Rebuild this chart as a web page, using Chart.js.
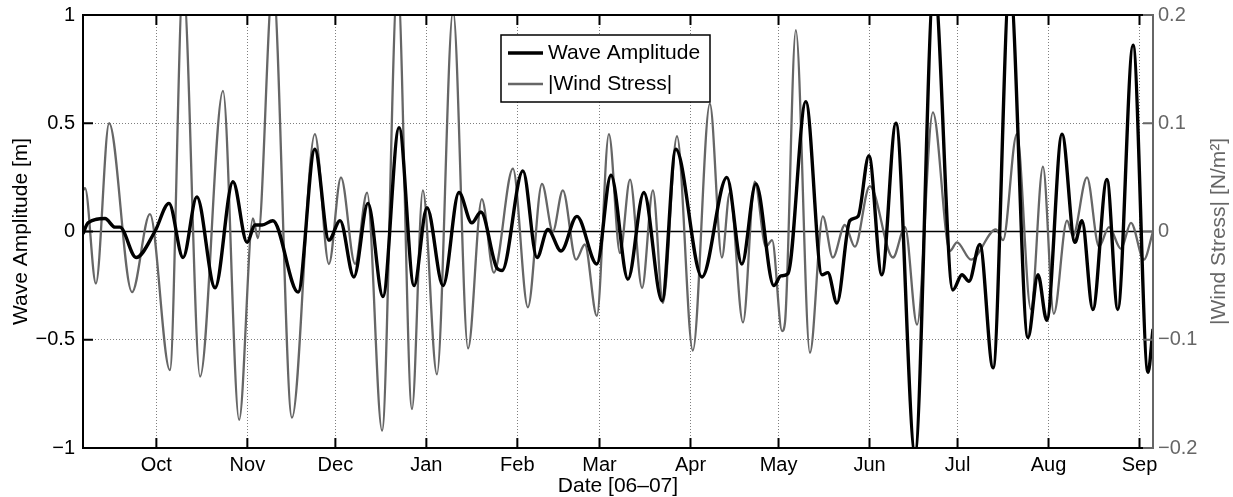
<!DOCTYPE html>
<html>
<head>
<meta charset="utf-8">
<script src="https://cdn.jsdelivr.net/npm/chart.js@4.4.0/dist/chart.umd.min.js"></script>
<style>
  html, body { margin: 0; padding: 0; background: #fff; }
  #wrap { width: 1233px; height: 497px; }
</style>
</head>
<body>
<div id="wrap"><canvas id="waveChart" width="1233" height="497"></canvas></div>
<script>
// days counted from 6 Sep 2006
const monthDays = [25, 56, 86, 117, 148, 176, 207, 237, 268, 298, 329, 360];
const monthLabels = ['Oct', 'Nov', 'Dec', 'Jan', 'Feb', 'Mar', 'Apr', 'May', 'Jun', 'Jul', 'Aug', 'Sep'];

const leftTicks = [-1, -0.5, 0, 0.5, 1];
const leftTickLabels = ['\u22121', '\u22120.5', '0', '0.5', '1'];
const rightTicks = [-0.2, -0.1, 0, 0.1, 0.2];
const rightTickLabels = ['\u22120.2', '\u22120.1', '0', '0.1', '0.2'];

// wave amplitude [m]
const waveDays = [0, 1.7, 7.5, 10.9, 12.6, 18.1, 24.5, 29.3, 34.1, 38.8,
  45.0, 51.1, 55.9, 58.6, 61.0, 64.7, 73.3, 79.0, 83.8, 87.6,
  92.3, 97.1, 102.2, 107.7, 112.8, 117.2, 122.7, 128.1, 132.5, 135.6,
  141.1, 142.8, 149.9, 154.7, 158.4, 162.9, 168.3, 175.1, 179.9, 185.7,
  191.1, 197.3, 202.0, 210.9, 219.4, 224.5, 229.3, 235.4, 237.8, 240.2,
  246.3, 251.8, 253.8, 256.9, 261.3, 264.1, 267.8, 272.2, 277.0, 283.5,
  290.0, 296.4, 299.5, 301.9, 305.6, 310.1, 315.8, 322.0, 325.4, 328.4,
  333.6, 338.0, 340.4, 344.1, 348.9, 352.6, 357.8, 362.9, 364.6];
const waveAmp = [-0.01, 0.04, 0.06, 0.02, 0.02, -0.12, 0.0, 0.13, -0.12, 0.16,
  -0.26, 0.23, -0.05, 0.03, 0.03, 0.05, -0.28, 0.38, -0.04, 0.05,
  -0.21, 0.13, -0.30, 0.48, -0.25, 0.11, -0.25, 0.18, 0.04, 0.09,
  -0.17, -0.18, 0.28, -0.12, 0.01, -0.09, 0.07, -0.15, 0.26, -0.22,
  0.18, -0.32, 0.38, -0.21, 0.25, -0.15, 0.22, -0.25, -0.205, -0.195,
  0.60, -0.20, -0.19, -0.33, 0.05, 0.07, 0.35, -0.20, 0.50, -1.02,
  1.15, -0.27, -0.20, -0.23, -0.06, -0.63, 1.15, -0.49, -0.20, -0.41,
  0.45, -0.05, 0.05, -0.36, 0.24, -0.36, 0.86, -0.65, -0.45];

// |wind stress| [N/m^2]
const windDays = [0, 0.7, 4.4, 8.9, 16.7, 22.8, 29.6, 34.1, 39.9, 47.7,
  53.2, 57.9, 59.6, 64.7, 71.2, 79.0, 83.8, 87.9, 92.7, 96.8,
  101.9, 107.2, 112.1, 115.8, 120.6, 126.1, 131.2, 135.9, 140.0, 146.5,
  151.6, 156.4, 160.1, 163.5, 168.0, 171.0, 175.1, 179.2, 183.0, 186.4,
  190.5, 194.2, 197.6, 202.4, 207.8, 213.6, 217.7, 220.4, 224.9, 228.9,
  232.7, 234.8, 238.2, 239.2, 242.9, 247.7, 252.1, 255.5, 259.6, 263.0,
  268.1, 276.0, 280.1, 284.2, 289.6, 295.4, 297.8, 302.6, 311.1, 313.5,
  318.2, 323.0, 327.1, 330.8, 335.3, 337.3, 342.1, 346.2, 349.6, 353.7,
  357.1, 361.5, 364.6];
const windStress = [0.038, 0.040, -0.048, 0.100, -0.056, 0.016, -0.128, 0.230, -0.134, 0.130,
  -0.174, 0.012, -0.006, 0.230, -0.172, 0.090, -0.030, 0.050, -0.030, 0.036,
  -0.184, 0.230, -0.164, 0.038, -0.132, 0.204, -0.108, 0.030, -0.038, 0.058,
  -0.070, 0.044, 0.000, 0.038, -0.026, -0.012, -0.078, 0.090, -0.020, 0.048,
  -0.052, 0.038, -0.066, 0.088, -0.110, 0.118, -0.024, 0.036, -0.084, 0.046,
  -0.014, -0.008, -0.092, -0.084, 0.186, -0.112, 0.014, -0.024, 0.006, -0.014,
  0.042, -0.024, 0.004, -0.086, 0.110, -0.018, -0.010, -0.026, 0.002, -0.008,
  0.090, -0.072, 0.060, -0.076, 0.010, -0.004, 0.050, -0.014, 0.004, -0.016,
  0.008, -0.026, 0.000];

const FONT = "'Liberation Sans', Arial, Helvetica, sans-serif";
const GRAY = '#666666';
const GRID = 'rgba(0,0,0,0.5)';

// frame, inward ticks, zero line, legend and right axis title
const framePlugin = {
    id: 'frame',
    beforeDatasetsDraw(chart) {
        const { ctx, chartArea: a, scales } = chart;
        const y0 = scales.y.getPixelForValue(0);
        ctx.save();
        ctx.strokeStyle = '#000';
        ctx.lineWidth = 1.5;
        ctx.beginPath();
        ctx.moveTo(a.left, y0);
        ctx.lineTo(a.right, y0);
        ctx.stroke();
        ctx.restore();
    },
    afterDatasetsDraw(chart) {
        const { ctx, chartArea: a, scales } = chart;
        const tl = 10;
        ctx.save();
        ctx.lineWidth = 2;
        ctx.strokeStyle = '#000';
        ctx.beginPath();
        monthDays.forEach(d => {
            const px = scales.x.getPixelForValue(d);
            ctx.moveTo(px, a.bottom); ctx.lineTo(px, a.bottom - tl);
            ctx.moveTo(px, a.top); ctx.lineTo(px, a.top + tl);
        });
        leftTicks.forEach(v => {
            const py = scales.y.getPixelForValue(v);
            ctx.moveTo(a.left, py); ctx.lineTo(a.left + tl, py);
        });
        ctx.stroke();

        // box
        ctx.beginPath();
        ctx.moveTo(a.right, a.top);
        ctx.lineTo(a.left, a.top);
        ctx.lineTo(a.left, a.bottom);
        ctx.lineTo(a.right, a.bottom);
        ctx.stroke();

        // right axis in gray
        ctx.strokeStyle = GRAY;
        ctx.beginPath();
        ctx.moveTo(a.right, a.top - 1);
        ctx.lineTo(a.right, a.bottom + 1);
        rightTicks.forEach(v => {
            const py = scales.y1.getPixelForValue(v);
            ctx.moveTo(a.right, py); ctx.lineTo(a.right - tl, py);
        });
        ctx.stroke();

        // right axis title, reading bottom to top
        ctx.fillStyle = GRAY;
        ctx.font = '21px ' + FONT;
        ctx.textAlign = 'center';
        ctx.textBaseline = 'middle';
        ctx.translate(chart.width - 14, (a.top + a.bottom) / 2);
        ctx.rotate(-Math.PI / 2);
        ctx.fillText('|Wind Stress| [N/m\u00B2]', 0, 0);
        ctx.restore();

        // legend
        const lx = 501, ly = 35, lw = 209, lh = 67;
        ctx.save();
        ctx.fillStyle = '#fff';
        ctx.fillRect(lx, ly, lw, lh);
        ctx.strokeStyle = '#000';
        ctx.lineWidth = 1.5;
        ctx.strokeRect(lx, ly, lw, lh);
        ctx.font = '21px ' + FONT;
        ctx.textAlign = 'left';
        ctx.textBaseline = 'middle';
        chart.data.datasets.forEach((ds, i) => {
            const yy = ly + 18 + i * 31;
            ctx.strokeStyle = ds.borderColor;
            ctx.lineWidth = ds.borderWidth;
            ctx.beginPath();
            ctx.moveTo(lx + 7, yy);
            ctx.lineTo(lx + 42, yy);
            ctx.stroke();
            ctx.fillStyle = '#000';
            ctx.fillText(ds.label, lx + 47, yy);
        });
        ctx.restore();
    }
};

const ctx = document.getElementById('waveChart').getContext('2d');
new Chart(ctx, {
    type: 'line',
    data: {
        datasets: [{
            label: 'Wave Amplitude',
            data: waveDays.map((d, i) => ({ x: d, y: waveAmp[i] })),
            yAxisID: 'y',
            borderColor: '#000',
            borderWidth: 3.4,
            pointRadius: 0,
            cubicInterpolationMode: 'monotone',
            clip: 0,
            order: 0
        }, {
            label: '|Wind Stress|',
            data: windDays.map((d, i) => ({ x: d, y: windStress[i] })),
            yAxisID: 'y1',
            borderColor: GRAY,
            borderWidth: 2.3,
            pointRadius: 0,
            cubicInterpolationMode: 'monotone',
            clip: 0,
            order: 1
        }]
    },
    options: {
        responsive: false,
        animation: false,
        devicePixelRatio: 1,
        layout: { padding: { top: 15, left: 0, right: 0, bottom: 0 } },
        plugins: { legend: { display: false }, tooltip: { enabled: false } },
        scales: {
            x: {
                type: 'linear',
                min: 0,
                max: 364.6,
                afterBuildTicks: s => { s.ticks = monthDays.map(v => ({ value: v })); },
                afterFit: s => { s.height = 49; s.paddingLeft = 0; s.paddingRight = 0; },
                ticks: {
                    autoSkip: false,
                    maxRotation: 0,
                    padding: 5,
                    color: '#000',
                    font: { family: FONT, size: 20 },
                    callback: (v, i) => monthLabels[i]
                },
                grid: { color: GRID, lineWidth: 1, drawTicks: false },
                border: { display: false, dash: [1, 2] },
                title: {
                    display: true,
                    text: 'Date [06\u201307]',
                    color: '#000',
                    font: { family: FONT, size: 21 },
                    padding: { top: 0, bottom: -2 }
                }
            },
            y: {
                position: 'left',
                min: -1,
                max: 1,
                afterBuildTicks: s => { s.ticks = leftTicks.map(v => ({ value: v })); },
                afterFit: s => { s.width = 83; s.paddingTop = 0; s.paddingBottom = 0; },
                ticks: {
                    padding: 8,
                    color: '#000',
                    font: { family: FONT, size: 20 },
                    callback: (v, i) => leftTickLabels[i]
                },
                grid: { color: GRID, lineWidth: 1, drawTicks: false },
                border: { display: false, dash: [1, 2] },
                title: {
                    display: true,
                    text: 'Wave Amplitude [m]',
                    color: '#000',
                    font: { family: FONT, size: 21 },
                    padding: { top: 9, bottom: 0 }
                }
            },
            y1: {
                position: 'right',
                min: -0.2,
                max: 0.2,
                afterBuildTicks: s => { s.ticks = rightTicks.map(v => ({ value: v })); },
                afterFit: s => { s.width = 80; s.paddingTop = 0; s.paddingBottom = 0; },
                ticks: {
                    padding: 5,
                    color: GRAY,
                    font: { family: FONT, size: 20 },
                    callback: (v, i) => rightTickLabels[i]
                },
                grid: { display: false, drawTicks: false },
                border: { display: false }
            }
        }
    },
    plugins: [framePlugin]
});
</script>
</body>
</html>
